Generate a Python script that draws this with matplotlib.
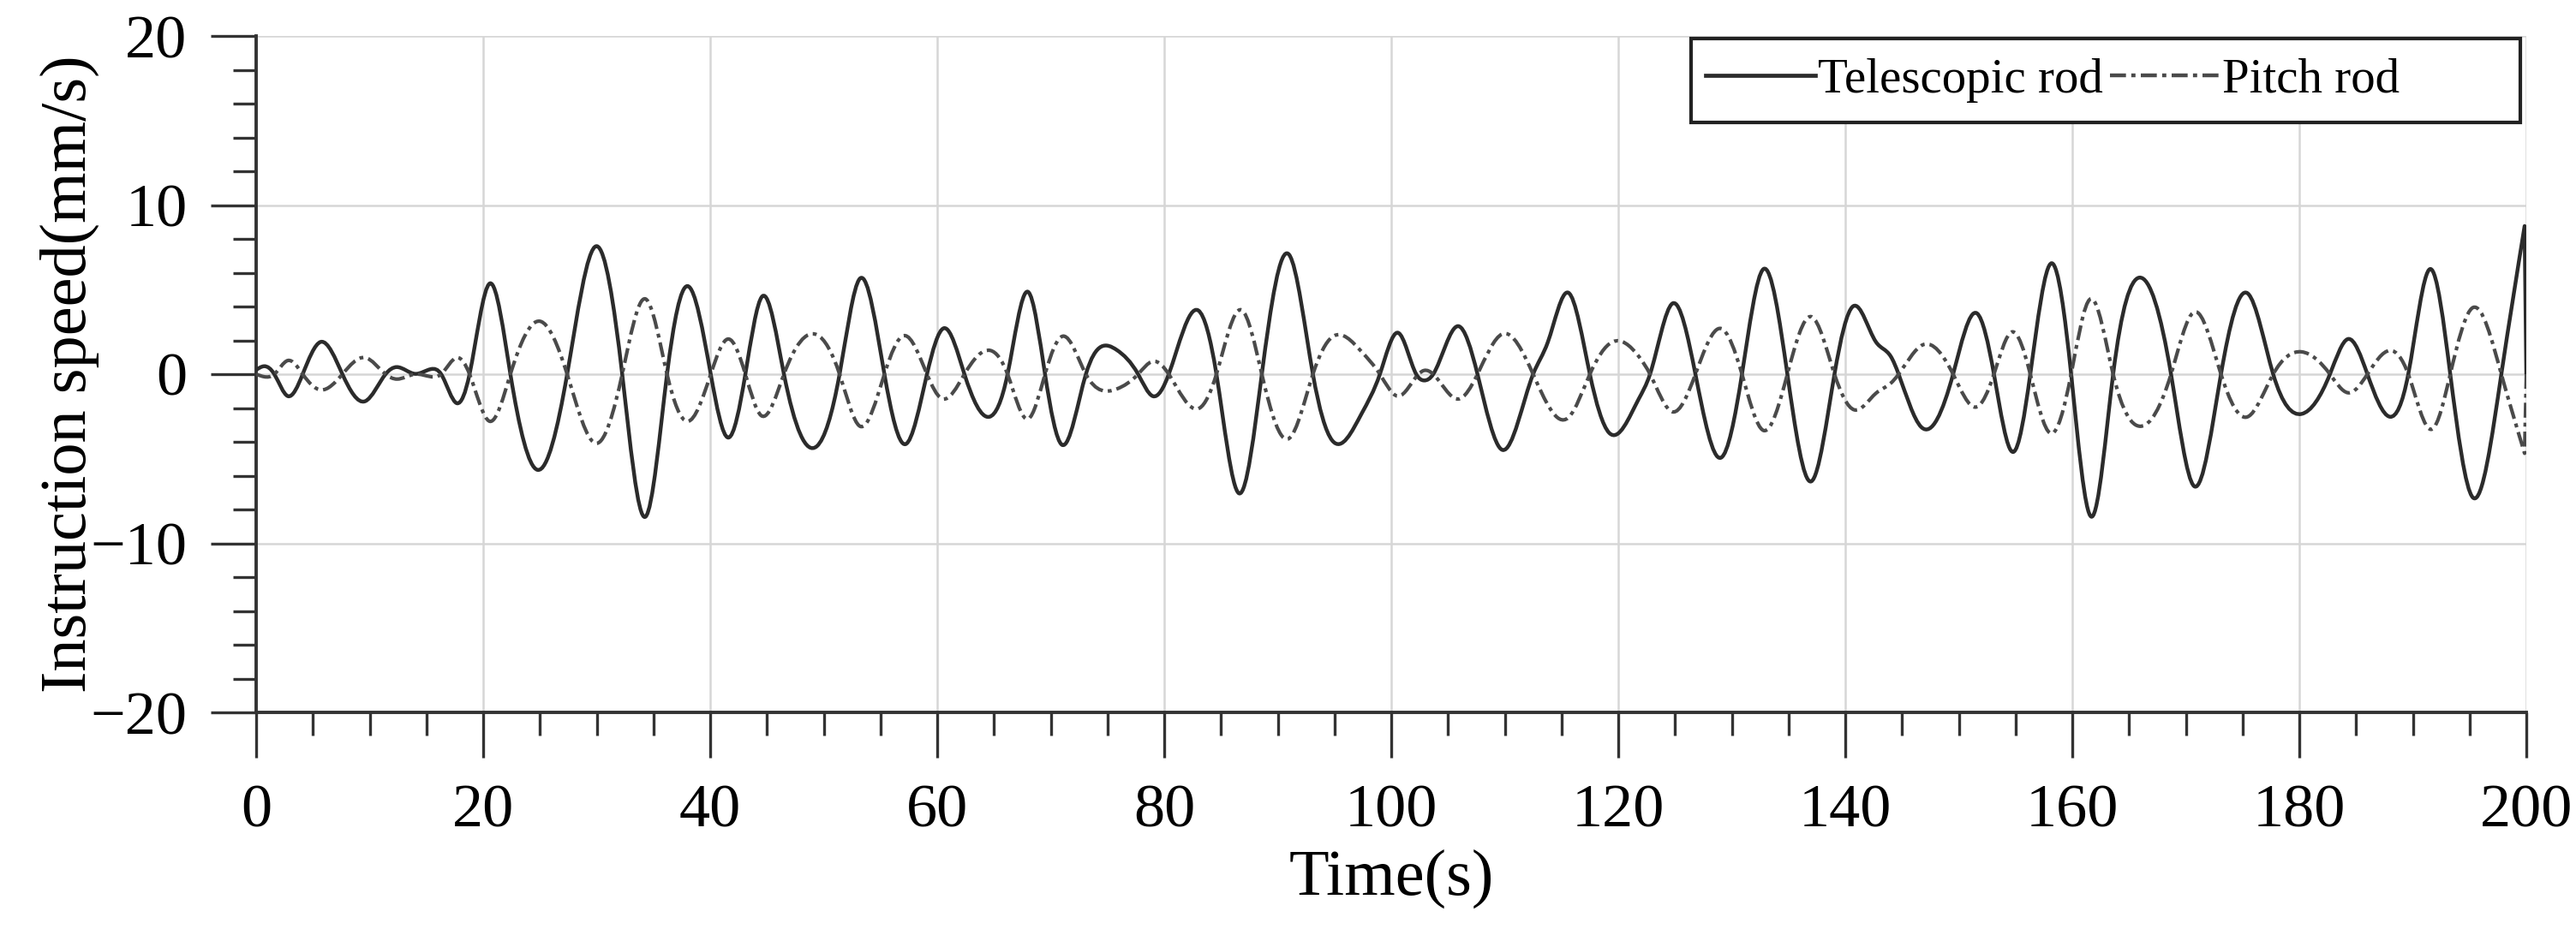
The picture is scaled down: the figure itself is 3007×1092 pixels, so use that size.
import numpy as np
import matplotlib
matplotlib.use('Agg')
import matplotlib.pyplot as plt
from matplotlib.path import Path
from matplotlib.patches import PathPatch, Rectangle
from matplotlib.lines import Line2D
from matplotlib.ticker import MultipleLocator

# values (extrema, zero crossings, shoulders)
tele_t = [0, 0.7, 1.6, 2.8, 4.1, 5.7, 7.6, 9.6, 11.4, 12.4, 14.0, 15.4, 16.3, 17.7, 18.8,
          20.6, 22.4, 24.8, 27.4, 30.0, 32.25, 34.3, 36.2, 38.0, 40.05, 41.6, 43.1, 44.6,
          46.5, 49.4, 51.4, 53.2, 55.35, 57.2, 59.1, 60.6, 62.4, 64.6, 66.2, 68.0, 69.5,
          71.0, 73.1, 75.8, 77.7, 79.0, 80.4, 83.0, 84.6, 86.6, 88.6, 91.0, 93.1, 94.8,
          97.4, 99.0, 100.6, 102.2, 102.9, 103.7, 105.9, 107.6, 109.8, 112.5, 113.8, 115.6,
          117.5, 119.2, 121.8, 122.8, 124.8, 126.8, 129.05, 130.9, 132.8, 134.9, 137.0,
          139.05, 140.7, 142.7, 144.0, 144.7, 146.7, 149.5, 151.6, 153.1, 154.8, 156.3,
          158.2, 159.9, 161.7, 163.6, 165.9, 168.7, 170.75, 173.1, 175.45, 177.7, 180.2,
          182.7, 184.3, 186.0, 188.0, 189.6, 191.55, 193.3, 195.3, 197.8, 199.85, 200.0]
tele_v = [0.25, 0.47, 0, -1.3, 0, 1.91, 0, -1.6, 0, 0.42, 0.02, 0.3, 0, -1.72, 0,
          5.37, 0, -5.66, 0, 7.57, 0, -8.43, 0, 5.21, 0, -3.75, 0, 4.61,
          0, -4.26, 0, 5.66, 0, -4.14, 0, 2.72, 0, -2.52, 0, 4.87, 0,
          -4.18, 0, 1.44, 0, -1.3, 0, 3.77, 0, -7.05, 0, 7.07, 0, -3.92,
          -2.32, 0, 2.45, 0, -0.37, 0, 2.84, 0, -4.48, 0, 1.9, 4.82,
          0, -3.47, -1.47, 0, 4.19, 0, -4.94, 0, 6.22, 0, -6.34,
          0, 4.02, 1.91, 1.06, 0, -3.13, 0, 3.6, 0, -4.6, 0,
          6.56, 0, -8.43, 0, 5.71, 0, -6.63, 0, 4.78, 0, -2.35,
          0, 2.08, 0, -2.52, 0, 6.22, 0, -7.3, 0, 8.76, 0]

pitch_t = [0, 0.7, 1.6, 2.8, 4.1, 5.7, 7.6, 9.6, 11.4, 12.4, 14.0, 15.4, 16.3, 17.7, 18.8,
           20.6, 22.4, 25.0, 27.4, 30.0, 32.25, 34.3, 36.2, 38.0, 40.05, 41.6, 43.1, 44.5,
           46.5, 49.4, 51.4, 53.2, 55.35, 57.1, 59.1, 60.4, 62.4, 64.7, 66.2, 68.0, 69.5,
           71.1, 73.1, 75.8, 77.7, 79.0, 80.4, 83.1, 84.6, 86.8, 88.6, 91.0, 93.1, 94.8,
           97.4, 99.0, 100.6, 102.4, 102.9, 103.7, 105.9, 107.6, 109.8, 112.5, 115.6,
           117.5, 119.5, 121.8, 122.8, 124.8, 126.8, 129.05, 130.9, 132.8, 134.9, 137.0,
           139.05, 140.8, 142.7, 144.0, 144.7, 146.85, 149.5, 151.55, 153.1, 154.7, 156.3,
           158.1, 159.9, 161.6, 163.6, 166.0, 168.7, 170.75, 173.1, 175.45, 177.7, 180.2,
           182.7, 184.3, 186.0, 188.0, 189.6, 191.7, 193.3, 195.3, 197.8, 199.85, 200.0]
pitch_v = [0.0, -0.15, 0, 0.81, 0, -0.93, 0, 0.98, 0, -0.29, 0.0, -0.15, 0, 0.98, 0,
           -2.79, 0, 3.13, 0, -4.09, 0, 4.45, 0, -2.79, 0, 2.08, 0, -2.45,
           0, 2.33, 0, -3.08, 0, 2.28, 0, -1.44, 0, 1.4, 0, -2.65, 0,
           2.25, 0, -0.88, 0, 0.76, 0, -2.01, 0, 3.8, 0, -3.8, 0, 2.2,
           1.32, 0, -1.3, 0, 0.22, 0, -1.47, 0, 2.38, 0, -2.57,
           0, 1.91, 1.06, 0, -2.23, 0, 2.7, 0, -3.33, 0, 3.4,
           0, -2.11, -1.13, -0.54, 0, 1.74, 0, -1.94, 0, 2.5, 0,
           -3.5, 0, 4.45, 0, -3.08, 0, 3.68, 0, -2.52, 0, 1.32,
           0, -1.1, 0, 1.4, 0, -3.25, 0, 3.94, 0, -4.68, 0]

series_names = ['Telescopic rod', 'Pitch rod']
x_ticks = [0, 20, 40, 60, 80, 100, 120, 140, 160, 180, 200]
y_ticks = [-20, -10, 0, 10, 20]


def smooth_path(t, v):
    # natural cubic spline through the read points, drawn as Bezier segments;
    # the last point (drop to 0 at the end) is joined with a straight segment
    t = np.asarray(t, float)[:-1]
    v = np.asarray(v, float)[:-1]
    n = len(t)
    h = np.diff(t)
    A = np.zeros((n, n))
    r = np.zeros(n)
    A[0, 0] = A[-1, -1] = 1
    for i in range(1, n - 1):
        A[i, i - 1] = h[i - 1]
        A[i, i] = 2 * (h[i - 1] + h[i])
        A[i, i + 1] = h[i]
        r[i] = 6 * ((v[i + 1] - v[i]) / h[i] - (v[i] - v[i - 1]) / h[i - 1])
    M = np.linalg.solve(A, r)
    verts = [(t[0], v[0])]
    codes = [Path.MOVETO]
    for i in range(n - 1):
        d = (v[i + 1] - v[i]) / h[i]
        s0 = d - h[i] * (2 * M[i] + M[i + 1]) / 6
        s1 = d + h[i] * (M[i] + 2 * M[i + 1]) / 6
        verts += [(t[i] + h[i] / 3, v[i] + s0 * h[i] / 3),
                  (t[i + 1] - h[i] / 3, v[i + 1] - s1 * h[i] / 3),
                  (t[i + 1], v[i + 1])]
        codes += [Path.CURVE4] * 3
    return verts, codes


def add_series(ax, t, v, **kw):
    verts, codes = smooth_path(t, v)
    verts.append((t[-1], v[-1]))
    codes.append(Path.LINETO)
    patch = PathPatch(Path(verts, codes), fill=False, capstyle='butt',
                      joinstyle='round', zorder=3, **kw)
    ax.add_patch(patch)


plt.rcParams['font.family'] = ['Liberation Serif', 'DejaVu Serif']

fig = plt.figure(figsize=(30.07, 10.92), dpi=100)
ax = fig.add_axes([299 / 3007, 1 - 832 / 1092, 2650 / 3007, 790 / 1092])

solid_color = '#2b2b2b'
dash_color = '#4a4a4a'
dash_style = (0, (4.2, 1.4, 1.1, 1.4))

add_series(ax, tele_t, tele_v, edgecolor=solid_color, linewidth=3.2)
add_series(ax, pitch_t, pitch_v, edgecolor=dash_color, linewidth=3.0, linestyle=dash_style)

ax.set_xlim(0, 200)
ax.set_ylim(-20, 20)
ax.set_xticks(x_ticks)
ax.set_yticks(y_ticks)
ax.xaxis.set_minor_locator(MultipleLocator(5))
ax.yaxis.set_minor_locator(MultipleLocator(2))
ax.grid(True, which='major', color='#d6d6d6', linewidth=1.8, zorder=0)
ax.set_axisbelow(True)

for s in ['top', 'right']:
    ax.spines[s].set_visible(False)
for s in ['left', 'bottom']:
    ax.spines[s].set_linewidth(2.8)
    ax.spines[s].set_color('#333333')

ax.tick_params(axis='both', which='major', direction='out', length=38, width=2.4,
               color='#333333', labelsize=52)
ax.tick_params(axis='both', which='minor', direction='out', length=19.5, width=2.4,
               color='#333333')
ax.tick_params(axis='y', which='major', pad=20)
ax.tick_params(axis='x', which='major', pad=22)

ax.set_xlabel('Time(s)', fontsize=55)
ax.set_ylabel('Instruction speed(mm/s)', fontsize=55)
ax.xaxis.set_label_coords(0.5, -0.202)
ax.yaxis.set_label_coords(-0.069, 0.5)

# legend box
box = Rectangle((1974 / 3007, 1 - 143 / 1092), 968 / 3007, 98 / 1092,
                transform=fig.transFigure, facecolor='white', edgecolor='#222222',
                linewidth=3.0, zorder=5)
fig.patches.append(box)

handles = [Line2D([], [], color=solid_color, linewidth=3.4),
           Line2D([], [], color=dash_color, linewidth=3.2, linestyle=dash_style)]
leg = fig.legend(handles, series_names, loc='center left',
                 bbox_to_anchor=(1991 / 3007, 1 - 94 / 1092),
                 bbox_transform=fig.transFigure, ncol=2, frameon=False,
                 fontsize=41, handlelength=2.25, handletextpad=0.05,
                 columnspacing=0.15, borderpad=0, borderaxespad=0)
leg.set_zorder(6)

fig.savefig('out.png', dpi=100)
